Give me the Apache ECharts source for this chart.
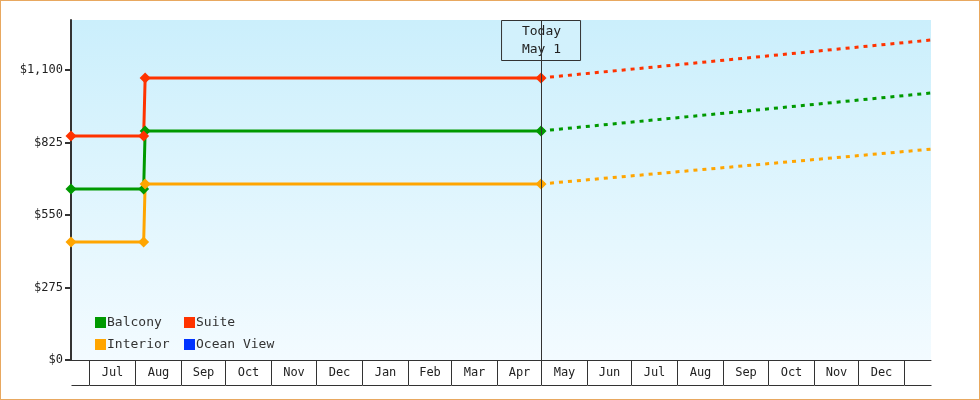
<!DOCTYPE html>
<html><head><meta charset="utf-8">
<script src="https://cdn.jsdelivr.net/npm/echarts@6/dist/echarts.min.js"></script>
<style>html,body{margin:0;padding:0;background:#fff}#c{width:978px;height:398px;border:1px solid #e8a860}</style>
</head><body><div id="c"></div>
<script>
var seriesNames = ['Balcony','Suite','Interior','Ocean View'];
var colors = ['#009900','#ff3300','#ffa500','#0033ff'];
var balcony = [['2023-06-19',649],['2023-08-07',649],['2023-08-08',869],['2024-05-01',869]];
var suite = [['2023-06-19',850],['2023-08-07',850],['2023-08-08',1070],['2024-05-01',1070]];
var interior = [['2023-06-19',448],['2023-08-07',448],['2023-08-08',668],['2024-05-01',668]];
var balconyForecast = [['2024-05-01',869],['2025-01-19',1013]];
var suiteForecast = [['2024-05-01',1070],['2025-01-19',1214]];
var interiorForecast = [['2024-05-01',668],['2025-01-19',800]];
var monthStarts = ['2023-06-01','2023-07-01','2023-08-01','2023-09-01','2023-10-01','2023-11-01','2023-12-01','2024-01-01','2024-02-01','2024-03-01','2024-04-01','2024-05-01','2024-06-01','2024-07-01','2024-08-01','2024-09-01','2024-10-01','2024-11-01','2024-12-01','2025-01-01','2025-02-01'];
var monthLabels = ['','Jul','Aug','Sep','Oct','Nov','Dec','Jan','Feb','Mar','Apr','May','Jun','Jul','Aug','Sep','Oct','Nov','Dec',''];
var yTicks = [0,275,550,825,1100];
var yTickLabels = ['$0','$275','$550','$825','$1,100'];
var xMin = '2023-06-19', xMax = '2025-01-19', today = '2024-05-01';
var font = 'DejaVu Sans Mono';

var t = function(s){return new Date(s+'T00:00:00Z').getTime();};
var minT = t(xMin), maxT = t(xMax);
var monthData = monthLabels.map(function(l,i){return [t(monthStarts[i]), t(monthStarts[i+1]), l];});

function line(name, data, color, dashed){
  return {name:name, type:'line', data:data.map(function(d){return [t(d[0]),d[1]];}),
    itemStyle:{color:color}, lineStyle:{width:3,color:color,type:dashed?[4,5]:'solid'},
    symbol: dashed?'none':'diamond', symbolSize:11, showSymbol:!dashed, z: dashed?2:3, animation:false};
}
var chart = echarts.init(document.getElementById('c'));
var option = {
  animation:false,
  textStyle:{fontFamily:font},
  grid:{left:70,right:48,top:19,bottom:39,show:true,borderWidth:0,
    backgroundColor:{type:'linear',x:0,y:0,x2:0,y2:1,colorStops:[{offset:0,color:'#cbeffc'},{offset:1,color:'#f3fbff'}]}},
  xAxis:{type:'time',min:minT,max:maxT,axisLine:{show:true,onZero:false,lineStyle:{color:'#333',width:1}},axisTick:{show:false},axisLabel:{show:false},splitLine:{show:false}},
  yAxis:{type:'value',min:0,max:1290,interval:275,
    axisLine:{show:true,lineStyle:{color:'#333',width:2}},
    axisTick:{show:true,length:6,customValues:yTicks,lineStyle:{color:'#333',width:2}},
    splitLine:{show:false},
    axisLabel:{fontFamily:font,fontSize:12,color:'#222',margin:8,customValues:yTicks,
      formatter:function(v){var i=yTicks.indexOf(v);return i>=0?yTickLabels[i]:'';}}},
  legend:[
    {data:['Balcony','Interior'],orient:'vertical',left:89,top:310,itemWidth:11,itemHeight:11,itemGap:9,icon:'rect',textStyle:{fontFamily:font,fontSize:13,color:'#333',padding:[0,0,0,-4]}},
    {data:['Suite','Ocean View'],orient:'vertical',left:178,top:310,itemWidth:11,itemHeight:11,itemGap:9,icon:'rect',textStyle:{fontFamily:font,fontSize:13,color:'#333',padding:[0,0,0,-4]}}
  ],
  series:[
    line('Balcony',balcony,colors[0],false),
    line('Suite',suite,colors[1],false),
    line('Interior',interior,colors[2],false),
    line('Balcony',balconyForecast,colors[0],true),
    line('Suite',suiteForecast,colors[1],true),
    line('Interior',interiorForecast,colors[2],true),
    {name:'Ocean View',type:'line',data:[],itemStyle:{color:colors[3]}},
    {type:'line',data:[],markLine:{silent:true,symbol:'none',label:{show:false},lineStyle:{color:'#333',width:1,type:'solid'},data:[{xAxis:t(today)}]}},
    {type:'custom',clip:false,silent:true,data:monthData,
      renderItem:function(params,api){
        var a=api.coord([Math.max(api.value(0),minT),0]), b=api.coord([Math.min(api.value(1),maxT),0]);
        var x0=Math.round(a[0])+0.5, x1=Math.round(b[0])+0.5, y=Math.round(a[1]);
        var ch=[];
        if(api.value(0)>minT) ch.push({type:'line',shape:{x1:x0,y1:y,x2:x0,y2:y+25},style:{stroke:'#333',lineWidth:1}});
        ch.push({type:'line',shape:{x1:x0,y1:y+25.5,x2:x1,y2:y+25.5},style:{stroke:'#333',lineWidth:1}});
        ch.push({type:'text',style:{text:monthData[params.dataIndex][2],x:(x0+x1)/2,y:y+13,align:'center',verticalAlign:'middle',font:'12px "DejaVu Sans Mono"',fill:'#222'}});
        return {type:'group',children:ch};
      }}
  ]
};
chart.setOption(option);
var p = chart.convertToPixel({gridIndex:0},[t(today),0]);
chart.setOption({graphic:[{type:'group',left:p[0]-40,top:19,children:[
  {type:'rect',shape:{x:0,y:0,width:79,height:40},style:{fill:'#d2f1fc',stroke:'#333',lineWidth:1}},
  {type:'text',style:{text:'Today\nMay 1',x:40,y:20,align:'center',verticalAlign:'middle',lineHeight:18,font:'13px "DejaVu Sans Mono"',fill:'#222'}}
]}]});
</script></body></html>
